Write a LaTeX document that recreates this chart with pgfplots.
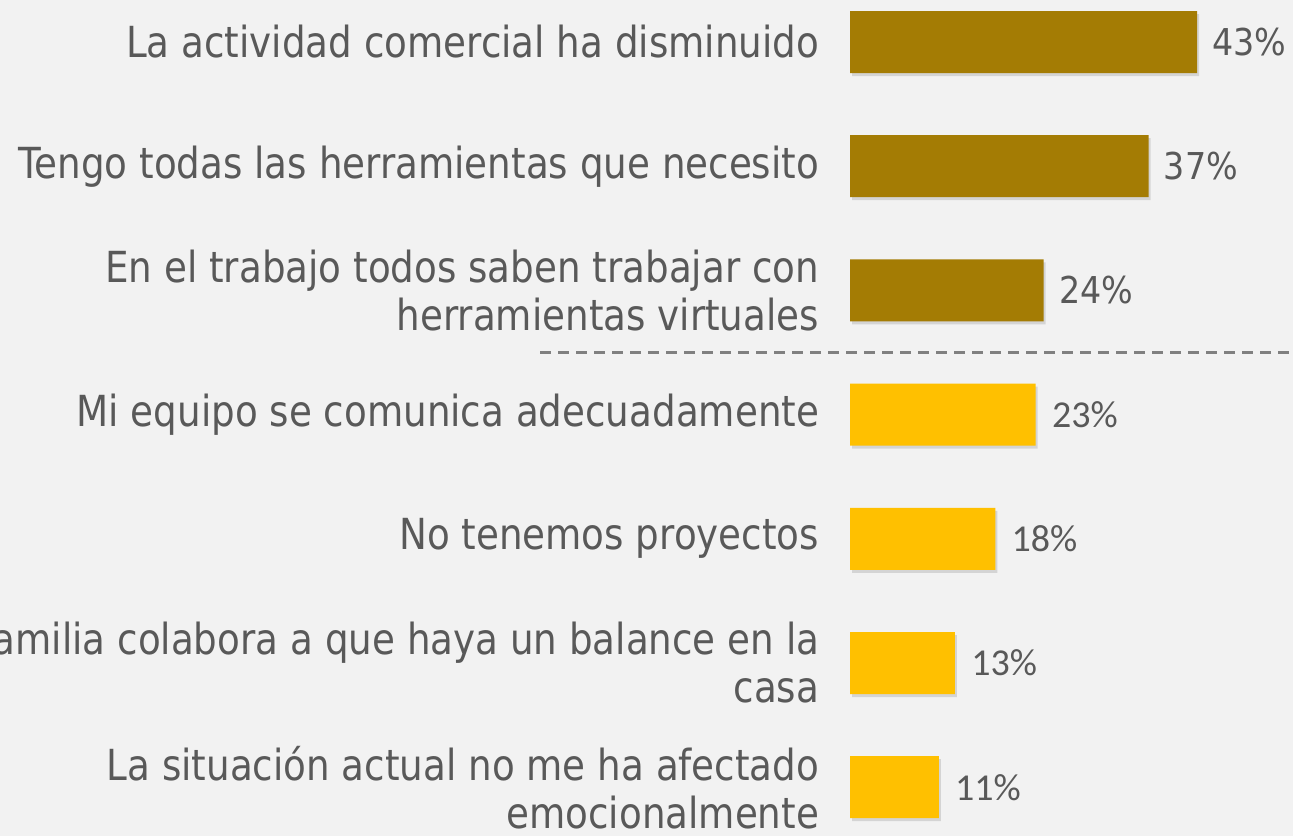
\documentclass[border=0pt]{standalone}
\usepackage{fontspec}
\setmainfont{DejaVu Sans}
\newfontfamily\lab{DejaVu Sans}[FakeStretch=0.87]
\newfontfamily\numf{DejaVu Sans}[FakeStretch=0.9]
\newfontfamily\carlito{Carlito}
\usepackage{pgfplots}
\pgfplotsset{compat=1.18}

\definecolor{bgc}{HTML}{F2F2F2}
\definecolor{goldc}{HTML}{A47C04}
\definecolor{yellowc}{HTML}{FFC000}
\definecolor{txt}{HTML}{595959}
\definecolor{dashc}{HTML}{808080}

% soft offset shadow under the bars
\tikzset{barshadow/.style={preaction={fill=black, fill opacity=0.12, draw=none,
    transform canvas={xshift=1pt, yshift=-1.5pt}}}}

\begin{document}
\begin{tikzpicture}
\useasboundingbox (0pt,0pt) rectangle (646.5pt,418pt);
\clip (0pt,0pt) rectangle (646.5pt,418pt);
\fill[bgc] (0pt,0pt) rectangle (646.5pt,418pt);
\begin{axis}[
    at={(425pt,428.05pt)}, anchor=north west,
    scale only axis,
    width=201.75pt, height=434.7pt,
    xmin=0, xmax=50, ymin=-0.5, ymax=6.5,
    y dir=reverse,
    xbar, bar width=31pt, bar shift=0pt,
    axis line style={draw=none}, tick style={draw=none},
    xtick=\empty,
    ytick={0,...,6},
    yticklabels={
        La actividad comercial ha disminuido,
        Tengo todas las herramientas que necesito,
        {En el trabajo todos saben trabajar con\\herramientas virtuales},
        Mi equipo se comunica adecuadamente,
        No tenemos proyectos,
        {Mi familia colabora a que haya un balance en la\\casa},
        {La situación actual no me ha afectado\\emocionalmente}},
    yticklabel style={align=right, anchor=east, inner sep=0pt, xshift=-11pt,
        text=txt, font=\lab\fontsize{21.4}{24}\selectfont},
    point meta=x,
    clip=false,
    /pgf/number format/assume math mode=true,
]
\addplot[fill=goldc, draw=none, barshadow,
    nodes near coords={\pgfmathprintnumber{\pgfplotspointmeta}\%},
    every node near coord/.append style={anchor=west, inner sep=0pt, xshift=7.5pt, text=txt, font=\numf\fontsize{18.5}{20}\selectfont}]
    coordinates {(43,0) (37,1) (24,2)};
\addplot[fill=yellowc, draw=none, barshadow,
    nodes near coords={\pgfmathprintnumber{\pgfplotspointmeta}\%},
    every node near coord/.append style={anchor=west, inner sep=0pt, xshift=8pt, text=txt, font=\carlito\fontsize{19}{20}\selectfont}]
    coordinates {(23,3) (18,4) (13,5) (11,6)};
\draw[dashc, line width=1.4pt, dash pattern=on 5.5pt off 3.5pt] (axis cs:-38.4,2.5) -- (axis cs:55,2.5);
\end{axis}
\end{tikzpicture}
\end{document}
